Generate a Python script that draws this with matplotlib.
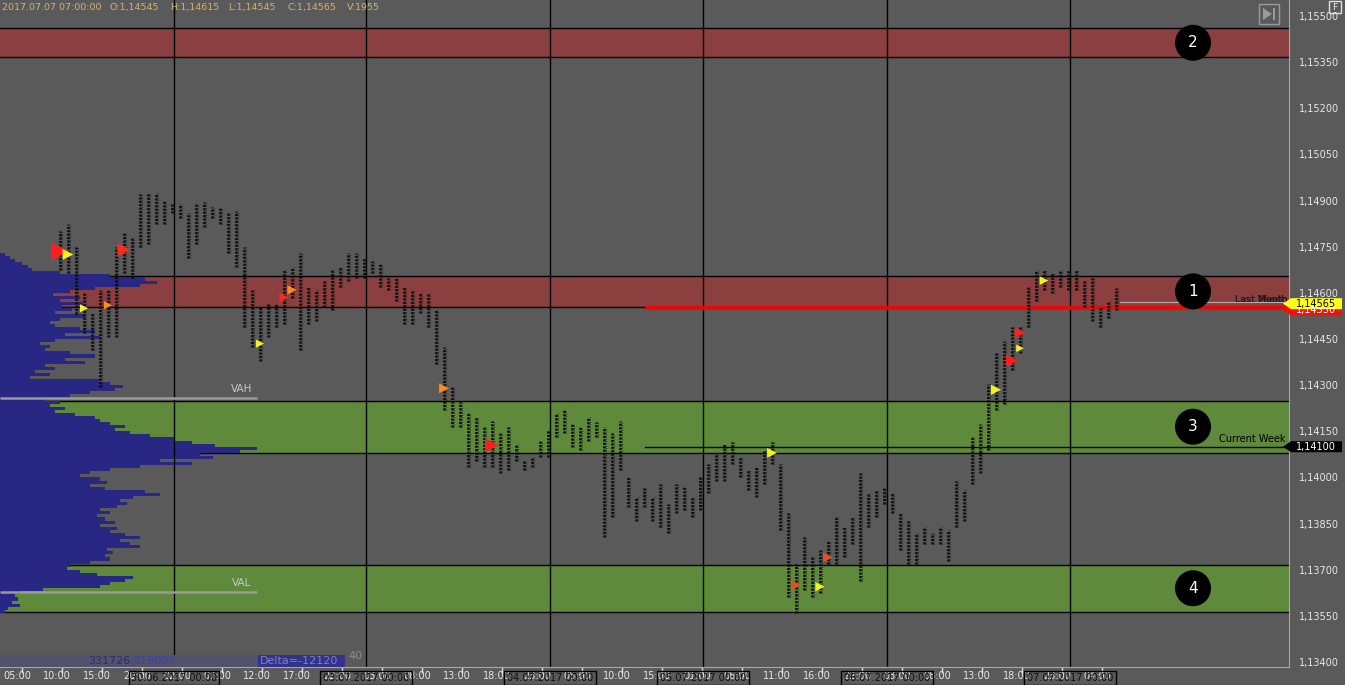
import matplotlib
matplotlib.use('Agg')
import matplotlib.pyplot as plt
import numpy as np
import matplotlib.transforms as mtransforms
from matplotlib.patches import Polygon, Rectangle, Circle

# ---------------- data ----------------
# hourly bars (high / low), EURUSD 29.06.2017 - 07.07.2017
bar_high = [1.14800, 1.14825, 1.14750, 1.14600, 1.14535, 1.14610, 1.14610, 1.14750, 1.14795, 1.14780,
            1.14920, 1.14925, 1.14925, 1.14900, 1.14890, 1.14890, 1.14860, 1.14890, 1.14895, 1.14880,
            1.14875, 1.14860, 1.14865, 1.14750, 1.14610, 1.14555, 1.14565, 1.14565, 1.14675, 1.14685,
            1.14730, 1.14620, 1.14610, 1.14640, 1.14675, 1.14685, 1.14730, 1.14730, 1.14715, 1.14705,
            1.14695, 1.14650, 1.14650, 1.14620, 1.14610, 1.14600, 1.14600, 1.14545, 1.14425, 1.14295,
            1.14250, 1.14210, 1.14195, 1.14165, 1.14185, 1.14145, 1.14165, 1.14110, 1.14055, 1.14065,
            1.14120, 1.14155, 1.14210, 1.14220, 1.14175, 1.14165, 1.14195, 1.14180, 1.14165, 1.14145,
            1.14185, 1.14000, 1.13935, 1.13965, 1.13935, 1.13980, 1.13915, 1.13980, 1.13970, 1.13935,
            1.14000, 1.14045, 1.14080, 1.14110, 1.14115, 1.14065, 1.14025, 1.14035, 1.14090, 1.14115,
            1.14045, 1.13885, 1.13720, 1.13805, 1.13740, 1.13765, 1.13795, 1.13870, 1.13840, 1.13870,
            1.14015, 1.13950, 1.13960, 1.13970, 1.13950, 1.13885, 1.13860, 1.13820, 1.13840, 1.13820,
            1.13840, 1.13830, 1.13990, 1.13960, 1.14130, 1.14175, 1.14305, 1.14405, 1.14445, 1.14490,
            1.14490, 1.14620, 1.14675, 1.14675, 1.14665, 1.14675, 1.14675, 1.14675, 1.14640, 1.14650,
            1.14555, 1.14575, 1.14615]
bar_low = [1.14675, 1.14665, 1.14530, 1.14470, 1.14415, 1.14295, 1.14455, 1.14455, 1.14665, 1.14650,
           1.14750, 1.14760, 1.14825, 1.14825, 1.14860, 1.14845, 1.14715, 1.14760, 1.14815, 1.14845,
           1.14825, 1.14730, 1.14685, 1.14490, 1.14425, 1.14380, 1.14455, 1.14490, 1.14500, 1.14585,
           1.14415, 1.14500, 1.14510, 1.14555, 1.14545, 1.14620, 1.14640, 1.14650, 1.14650, 1.14665,
           1.14620, 1.14610, 1.14575, 1.14500, 1.14500, 1.14535, 1.14490, 1.14370, 1.14220, 1.14165,
           1.14165, 1.14035, 1.14055, 1.14035, 1.14035, 1.14015, 1.14025, 1.14055, 1.14025, 1.14035,
           1.14065, 1.14065, 1.14130, 1.14145, 1.14100, 1.14090, 1.14120, 1.14130, 1.13805, 1.13870,
           1.14025, 1.13905, 1.13860, 1.13905, 1.13860, 1.13840, 1.13820, 1.13885, 1.13895, 1.13870,
           1.13895, 1.13950, 1.13990, 1.13990, 1.14045, 1.14000, 1.13960, 1.13935, 1.13980, 1.14045,
           1.13830, 1.13610, 1.13560, 1.13635, 1.13610, 1.13625, 1.13720, 1.13720, 1.13740, 1.13785,
           1.13665, 1.13840, 1.13870, 1.13915, 1.13885, 1.13765, 1.13720, 1.13720, 1.13785, 1.13785,
           1.13785, 1.13730, 1.13840, 1.13860, 1.13980, 1.14015, 1.14090, 1.14220, 1.14240, 1.14350,
           1.14405, 1.14490, 1.14575, 1.14610, 1.14600, 1.14620, 1.14610, 1.14610, 1.14555, 1.14510,
           1.14490, 1.14520, 1.14545]

# imbalance markers: bar index, price, colour, size
mark_bar = [0, 1, 3, 6, 8, 25, 28, 29, 48, 54, 89, 92, 95, 96, 117, 119, 120, 120, 123]
mark_price = [1.14735, 1.14725, 1.14550, 1.14560, 1.14740, 1.14435, 1.14585, 1.14610, 1.14290, 1.14105,
              1.14080, 1.13650, 1.13645, 1.13740, 1.14285, 1.14380, 1.14470, 1.14420, 1.14640]
mark_color = ['#ff1e1e', '#f2f21e', '#f2f21e', '#ff8c1a', '#ff2a1a', '#f2f21e', '#ff2a1a', '#ff8c1a',
              '#ff8c1a', '#ff1e1e', '#f2f21e', '#e8501a', '#f2f21e', '#e8501a', '#f2f21e', '#ff1e1e',
              '#ff1e1e', '#f2f21e', '#f2f21e']
mark_size = [170, 60, 35, 35, 90, 35, 45, 45, 50, 100, 50, 50, 45, 50, 55, 75, 60, 30, 40]

# volume profile (top level 1.14725, one pip per row, downwards)
profile_top = 1.14725
profile_vol = [5, 10, 15, 22, 28, 32, 60, 110, 145, 157, 140, 95, 70, 53, 80, 60, 83, 62, 72, 55,
               85, 60, 50, 55, 80, 95, 65, 100, 55, 40, 50, 45, 70, 95, 65, 85, 45, 55, 35, 50,
               30, 100, 110, 123, 115, 90, 70, 45, 60, 50, 65, 55, 75, 95, 100, 110, 125, 115, 130, 150,
               175, 192, 215, 257, 240, 200, 213, 160, 192, 140, 110, 90, 80, 100, 107, 90, 105, 145, 160, 133,
               120, 127, 117, 100, 110, 97, 105, 115, 100, 117, 110, 125, 140, 120, 130, 140, 107, 113, 105, 110,
               90, 70, 67, 80, 97, 133, 125, 110, 100, 43, 20, 15, 18, 12, 20, 8, 5]

# zones
red_zones = [(1.14655, 1.14555), (1.15460, 1.15367)]
green_zones = [(1.14250, 1.14080), (1.13717, 1.13563)]
zone_numbers = ['1', '2', '3', '4']
zone_centres = [1.14605, 1.15413, 1.14165, 1.13640]

vah, val = 1.14258, 1.13628
last_price = 1.14565
red_level = 1.14550
current_week = 1.14100
last_week_line = 1.14570

day_breaks = [14.25, 38.25, 61.25, 80.375, 103.375, 126.25]
day_labels = ['30.06.2017 00:00', '03.07.2017 00:00', '04.07.2017 00:00',
              '05.07.2017 00:00', '06.07.2017 00:00', '07.07.2017 00:00']
time_labels = ['05:00', '10:00', '15:00', '20:00', '02:00', '07:00', '12:00', '17:00', '22:00', '03:00',
               '08:00', '13:00', '18:00', '23:00', '05:00', '10:00', '15:00', '01:00', '06:00', '11:00',
               '16:00', '22:00', '03:00', '08:00', '13:00', '18:00', '23:00', '04:00']
price_ticks = [1.13400, 1.13550, 1.13700, 1.13850, 1.14000, 1.14150, 1.14300, 1.14450,
               1.14600, 1.14750, 1.14900, 1.15050, 1.15200, 1.15350, 1.15500]

header = ['2017.07.07 07:00:00', 'O:1,14545', 'H:1,14615', 'L:1,14545', 'C:1,14565', 'V:1955']

# ---------------- layout ----------------
W, H = 1345, 685
AX_W, AX_H = 1289, 667
BG = '#5a5a5a'
fig = plt.figure(figsize=(W / 100, H / 100), dpi=100, facecolor=BG)
pos = [0, (H - AX_H) / H, AX_W / W, AX_H / H]
YMIN, YMAX = 1.13384, 1.15552
XMIN, XMAX = -7.5, 153.625

ax_bg = fig.add_axes(pos, facecolor=BG)
ax_pf = fig.add_axes(pos)
ax = fig.add_axes(pos)
for a in (ax_pf, ax):
    a.patch.set_alpha(0)
for a in (ax_bg, ax_pf, ax):
    a.set_ylim(YMIN, YMAX)
ax_bg.set_xlim(XMIN, XMAX)
ax.set_xlim(XMIN, XMAX)
ax_pf.set_xlim(0, AX_W)

for a in (ax_bg, ax_pf):
    a.set_xticks([]); a.set_yticks([])
    for s in a.spines.values():
        s.set_visible(False)

# zones
for top, bot in red_zones:
    ax_bg.axhspan(bot, top, color='#8b3f3f', lw=0)
for top, bot in green_zones:
    ax_bg.axhspan(bot, top, color='#5f893b', lw=0)
for top, bot in red_zones + green_zones:
    ax_bg.axhline(top, color='black', lw=1)
    ax_bg.axhline(bot, color='black', lw=1)

# volume profile
levels = np.round(profile_top - 0.0001 * np.arange(len(profile_vol)), 5)
ax_pf.barh(levels, profile_vol, height=0.000102, left=0, color='#282884', lw=0)

# main axes content
for xb in day_breaks:
    ax.axvline(xb, color='black', lw=1, zorder=2)

ax.plot([XMIN, XMIN + 257 / 8], [vah, vah], color='#9a9a9a', lw=1.8, zorder=3, solid_capstyle='butt')
ax.plot([XMIN, XMIN + 257 / 8], [val, val], color='#9a9a9a', lw=1.8, zorder=3, solid_capstyle='butt')
ax.text(XMIN + 242 / 8, vah + 0.00028, 'VAH', color='#c8c8c8', fontsize=7.5, ha='center', va='center', zorder=3)
ax.text(XMIN + 242 / 8, val + 0.00030, 'VAL', color='#c8c8c8', fontsize=7.5, ha='center', va='center', zorder=3)

ax.plot([73.1, XMAX], [red_level, red_level], color='#ff0000', lw=2.6, zorder=3, solid_capstyle='butt')
ax.plot([73.1, XMAX], [current_week, current_week], color='black', lw=1, zorder=3)
ax.plot([132.5, XMAX], [last_week_line, last_week_line], color='#b0b0b0', lw=0.8, zorder=3)

ax.text(XMAX - 0.4, current_week + 0.00024, 'Current Week', color='black', fontsize=7, ha='right', va='center', zorder=4)
ax.text(XMAX - 6.8, last_price + 0.00015, 'Last Month', color='black', fontsize=6.8, ha='left', va='center', zorder=4)
ax.text(XMAX - 6.8, last_price + 0.00015, 'Last Week', color='#222222', fontsize=6.8, ha='left', va='center', zorder=4)

# footprint bars
idx = np.arange(len(bar_high))
ax.vlines(idx, bar_low, bar_high, color='#0a0a0a', lw=1.9, linestyles=(0, (0.8, 0.5)), zorder=5)
ax.vlines(idx + 0.28, bar_low, bar_high, color='#1a1a1a', lw=0.8, linestyles=(0, (0.7, 1.4)), zorder=5)

ax.scatter(mark_bar, mark_price, s=mark_size, c=mark_color, marker='>', lw=0, zorder=6)

# axes styling
ax.set_yticks(price_ticks)
ax.set_yticklabels([f'{p:.5f}'.replace('.', ',') for p in price_ticks])
ax.yaxis.tick_right()
ax.tick_params(axis='y', length=0, pad=7, labelsize=7, labelcolor='#e8e8e8')
tick_pos = [-4.75 + 5 * k for k in range(len(time_labels))]
ax.set_xticks([t - 0.6 for t in tick_pos])
ax.set_xticklabels(time_labels)
ax.set_xticks(tick_pos, minor=True)
ax.tick_params(axis='x', which='major', length=0, pad=3, labelsize=7, labelcolor='#e8e8e8')
ax.tick_params(axis='x', which='minor', length=4, width=1, color='#e0e0e0', direction='out')
for k in ('top', 'left'):
    ax.spines[k].set_visible(False)
ax.spines['bottom'].set_color('#a8a8a8')
ax.spines['right'].set_color('#a8a8a8')

blend = mtransforms.blended_transform_factory(ax.transData, ax.transAxes)
for xb, lab in zip(day_breaks, day_labels):
    ax.text(xb, -0.0165, lab, transform=blend, ha='center', va='center', fontsize=7, color='#101010',
            bbox=dict(boxstyle='square,pad=0.25', fc='none', ec='black', lw=1), clip_on=False, zorder=7)

# ---------------- overlay in pixel coordinates ----------------
ov = fig.add_axes([0, 0, 1, 1])
ov.set_xlim(0, W)
ov.set_ylim(H, 0)
ov.axis('off')


def ypx(p):
    return (YMAX - p) / (YMAX - YMIN) * AX_H


hx = [2, 110, 170, 228, 287, 347]
for x, t in zip(hx, header):
    ov.text(x, 7, t, color='#d4b46c', fontsize=6.8, ha='left', va='center')

for num, c in zip(zone_numbers, zone_centres):
    ov.add_patch(Circle((1193, ypx(c)), 18, fc='black', ec='none'))
    ov.text(1193, ypx(c), num, color='white', fontsize=11, ha='center', va='center')


# right-side price flags
def flag(p, fc, tc, txt):
    y = ypx(p)
    ov.add_patch(Polygon([(1283, y), (1291, y - 5.5), (1342, y - 5.5), (1342, y + 5.5), (1291, y + 5.5)],
                         closed=True, fc=fc, ec='none'))
    ov.text(1296, y, txt, color=tc, fontsize=7, ha='left', va='center')


flag(red_level - 0.00006, '#ee1111', '#ffffff', '1,14550')
flag(last_price, '#ffff1a', '#000000', '1,14565')
flag(current_week, '#000000', '#ffffff', '1,14100')

# top-right buttons
ov.add_patch(Rectangle((1259, 4), 20, 20, fc='none', ec='#9a9a9a', lw=1))
ov.add_patch(Polygon([(1263, 8), (1263, 20), (1272, 14)], closed=True, fc='#9a9a9a', ec='none'))
ov.add_patch(Rectangle((1272.5, 8), 2.5, 12, fc='#9a9a9a', ec='none'))
ov.add_patch(Rectangle((1329, 1), 12, 12, fc='none', ec='#e0e0e0', lw=1))
ov.text(1335, 7.5, 'F', color='#f0f0f0', fontsize=6.5, ha='center', va='center')

# delta strip
ov.add_patch(Rectangle((0, 655), 345, 12, fc='#52526e', ec='none'))
ov.add_patch(Rectangle((258, 655), 87, 12, fc='#33338a', ec='none'))
ov.text(88, 661, '331726', color='#2e2e6a', fontsize=8, ha='left', va='center')
ov.text(133, 661, '319606', color='#4040a8', fontsize=8, ha='left', va='center')
ov.text(260, 661, 'Delta=-12120', color='#7e7ec8', fontsize=8, ha='left', va='center')
ov.text(348, 656, '40', color='#8c8c8c', fontsize=8, ha='left', va='center')

fig.savefig('out.png', dpi=100, facecolor=BG)
